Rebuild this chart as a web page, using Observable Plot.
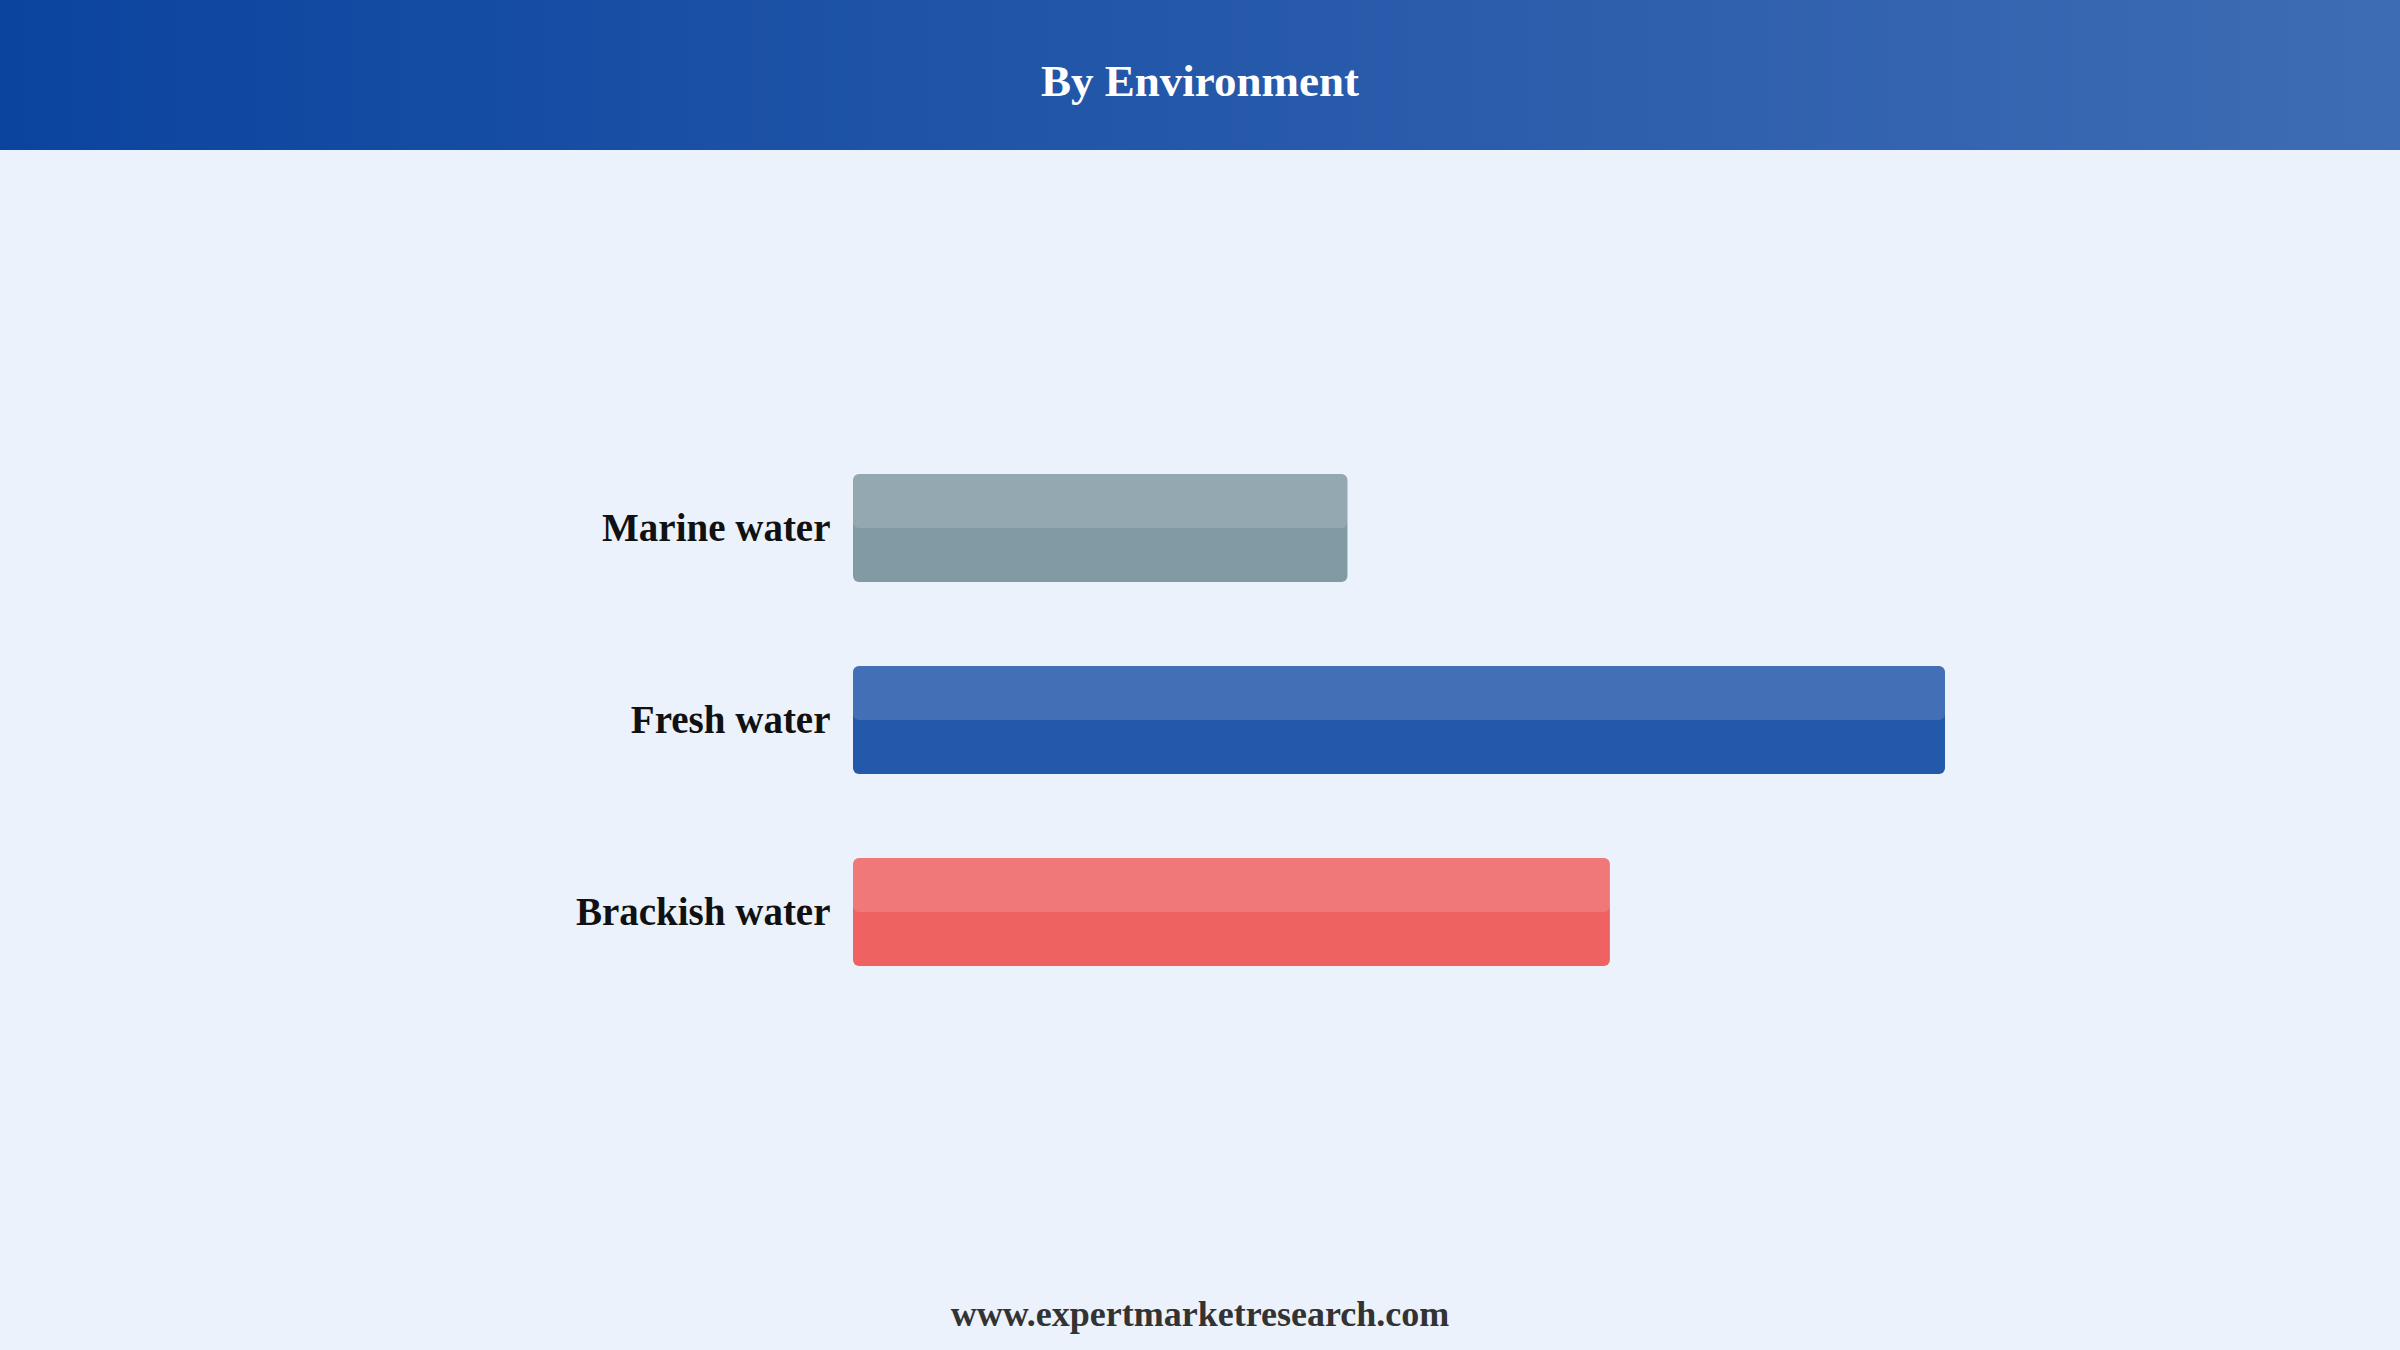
<!DOCTYPE html>
<html>
<head>
<meta charset="utf-8">
<script src="https://cdn.jsdelivr.net/npm/d3@7"></script>
<script src="https://cdn.jsdelivr.net/npm/@observablehq/plot@0.6"></script>
<style>
  html, body { margin: 0; padding: 0; width: 2400px; height: 1350px; overflow: hidden; background: #EBF2FC; }
  #header {
    height: 150px; width: 2400px;
    background: linear-gradient(to right, #0B449F, #3E6CB4);
    display: flex; align-items: center; justify-content: center;
    box-sizing: border-box; padding-top: 12px;
    color: #fff; font-family: "Liberation Serif", "Times New Roman", serif; font-weight: bold; font-size: 45px;
  }
  #chart { height: 1120px; }
  #footer {
    position: absolute; left: 0; top: 1293px; width: 2400px; text-align: center;
    font-family: "Liberation Serif", "Times New Roman", serif; font-weight: bold; font-size: 36px; color: #333;
  }
</style>
</head>
<body>
<div id="header">By Environment</div>
<div id="chart"></div>
<div id="footer">www.expertmarketresearch.com</div>
<script>
const categories = ["Marine water", "Fresh water", "Brackish water"];
const shares = [21.1, 46.6, 32.3];
const baseColors = ["#829AA3", "#2458AA", "#EE6262"];

const data = categories.map((c, i) => ({category: c, value: shares[i], color: baseColors[i]}));

const chart = Plot.plot({
  width: 2400,
  height: 1120,
  marginLeft: 853,
  marginRight: 141,
  marginTop: 240,
  marginBottom: 220,
  style: {background: "transparent", fontFamily: "'Liberation Serif', 'Times New Roman', serif"},
  x: {domain: [0, 60], axis: null},
  y: {domain: categories, padding: 0.4375, label: null},
  marks: [
    Plot.barX(data, {y: "category", x: "value", fill: "color", rx: 6}),
    Plot.barX(data, {y: "category", x: "value", fill: "#ffffff", fillOpacity: 0.14, insetBottom: 54, rx: 6}),
    Plot.axisY({tickSize: 0, tickPadding: 23, fontSize: 39, fontWeight: "bold", fill: "#111", label: null})
  ]
});
document.getElementById("chart").appendChild(chart);
</script>
</body>
</html>
